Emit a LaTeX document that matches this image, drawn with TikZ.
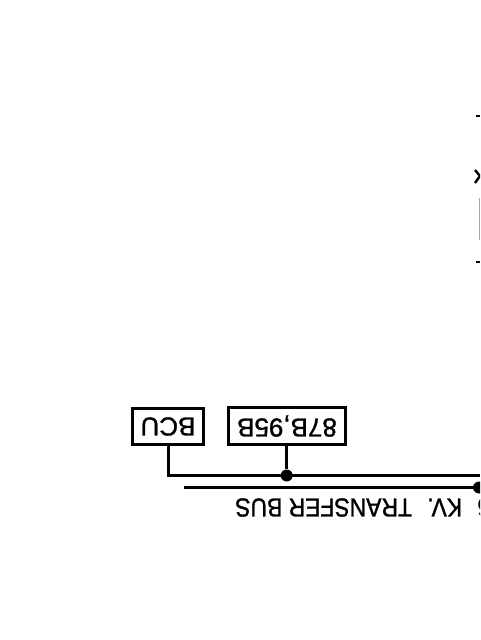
\documentclass[tikz,border=0pt]{standalone}
\usepackage{fontspec}
\setmainfont{Liberation Sans}
\newfontfamily\cadfont[FakeBold=1.2]{Liberation Sans}
\newfontfamily\busfont[FakeBold=1.2,FakeStretch=0.88]{Liberation Sans}
\tikzset{
  wire/.style={line width=2.5pt},
  relay/.style={draw,line width=2.3pt,minimum height=27.5pt,inner sep=0pt,font=\cadfont\fontsize{19.5}{19.5}\selectfont,rotate=180},
  junction/.style={circle,fill=black,inner sep=0pt,minimum size=9pt},
  buslabel/.style={inner sep=0pt,anchor=east,rotate=180,font=\busfont\fontsize{19.5}{19.5}\selectfont}
}
\begin{document}
\begin{tikzpicture}[x=0.75pt,y=-0.75pt]
\useasboundingbox (0,0) rectangle (480,640);
\clip (0,0) rectangle (480,640);
\node[relay,minimum width=53pt] (bcu) at (168,426.5) {BCU};
\node[relay,minimum width=87.5pt] (rel) at (287,426) {87B,95B};
\node[junction] (j1) at (286.7,475.5) {};
\node[junction] (j2) at (479,487.5) {};
\coordinate (e1) at (480,475.5);
\coordinate (b0) at (184,487.5);
\coordinate (c1) at (168.5,475.5);
\coordinate (t1) at (168.5,445);
\coordinate (t2) at (286.7,445);
\draw[wire] (t1) -- (c1) -- (e1);
\draw[wire] (t2) -- (j1);
\draw[wire] (b0) -- (j2);
\node[buslabel] (lbl) at (235,507.5) {6\hspace{6.75pt} KV.\hspace{6.75pt} TRANSFER BUS};
\coordinate (m1) at (476,116);
\coordinate (m1e) at (480,116);
\draw[line width=1.5pt] (m1) -- (m1e);
\coordinate (m2) at (476,262);
\coordinate (m2e) at (480,262);
\draw[line width=1.5pt] (m2) -- (m2e);
\coordinate (x1) at (475,170);
\coordinate (x2) at (480,176);
\coordinate (x3) at (475,183);
\draw[line width=1.8pt] (x1) -- (x2) -- (x3);
\coordinate (r1) at (479.5,198);
\coordinate (r2) at (479.5,240);
\draw[line width=1pt,black!35] (r1) -- (r2);
\end{tikzpicture}
\end{document}
